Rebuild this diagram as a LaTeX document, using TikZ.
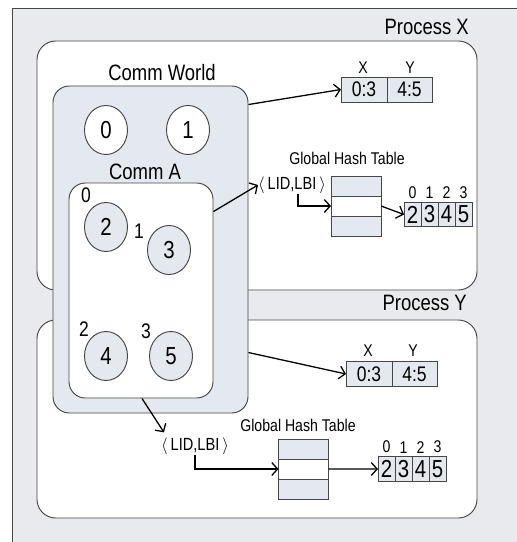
\documentclass[tikz,border=0pt]{standalone}
\usepackage{fontspec}
\setmainfont{Liberation Sans}[FakeStretch=0.83]
\usepackage{tikz}
\usetikzlibrary{arrows.meta, positioning, shapes.geometric, calc}
\usepackage{xcolor}
\definecolor{BG}{RGB}{233,234,237}
\definecolor{FL}{RGB}{228,233,239}
\definecolor{DG}{RGB}{70,70,70}

\begin{document}
\begin{tikzpicture}[x=0.03cm, y=-0.03cm,
  procbox/.style={draw=DG, line width=0.8pt, fill=white, rounded corners=16pt},
  commbox/.style={draw=DG, line width=0.8pt, rounded corners=14pt},
  biglabel/.style={inner sep=0pt, font=\fontsize{19}{20}\selectfont},
  rankcirc/.style={draw=DG, line width=0.8pt, ellipse, inner sep=0pt,
                   minimum width=1.29cm, minimum height=1.47cm,
                   font=\fontsize{21}{22}\selectfont},
  ranklabel/.style={inner sep=0pt, font=\fontsize{18}{19}\selectfont},
  cell/.style={draw=DG, line width=0.7pt, fill=FL, inner sep=0pt, outer sep=0pt,
               minimum height=0.75cm, font=\fontsize{18}{19}\selectfont},
  hcell/.style={draw=DG, line width=0.7pt, inner sep=0pt, outer sep=0pt,
                minimum width=1.5cm, minimum height=0.6cm},
  acell/.style={draw=DG, line width=0.7pt, fill=FL, inner sep=0pt, outer sep=0pt,
                minimum width=0.51cm, minimum height=0.73cm,
                font=\fontsize{21}{22}\selectfont},
  small/.style={inner sep=0pt, font=\fontsize{14.5}{15}\selectfont},
  lid/.style={inner sep=0pt, font=\fontsize{15}{16}\selectfont},
  link/.style={-{Straight Barb[length=5pt,width=11pt]}, line width=1.1pt}
]
\useasboundingbox (0,0) rectangle (517,542);
\clip (0,0) rectangle (517,542);
\draw[DG, fill=BG, line width=0.8pt] (12,8) rectangle (540,570);

% processes
\node[procbox, minimum width=13.2cm, minimum height=7.47cm] (px) at (257,165.5) {};
\node[procbox, minimum width=13.2cm, minimum height=5.94cm] (py) at (257,419) {};
\node[biglabel, anchor=east] (pxl) at (469,27) {Process X};
\node[biglabel, anchor=east] (pyl) at (467,303) {Process Y};

% communicators
\node[commbox, fill=FL, minimum width=5.85cm, minimum height=9.81cm] (cw) at (150.5,249.5) {};
\node[commbox, fill=white, minimum width=4.32cm, minimum height=6.45cm] (ca) at (141,290.5) {};
\node[biglabel] (cwl) at (162,73) {Comm World};
\node[biglabel] (cal) at (145,172) {Comm A};

\node[rankcirc, fill=white] (c0) at (106,130) {0};
\node[rankcirc, fill=white] (c1) at (188,130) {1};
\node[rankcirc, fill=FL]    (c2) at (106,227) {2};
\node[rankcirc, fill=FL]    (c3) at (169,250) {3};
\node[rankcirc, fill=FL]    (c4) at (106,356) {4};
\node[rankcirc, fill=FL]    (c5) at (171,356) {5};

\node[ranklabel] (r0) at (86,195) {0};
\node[ranklabel] (r1) at (139,231) {1};
\node[ranklabel] (r2) at (84,329) {2};
\node[ranklabel] (r3) at (146,331) {3};

% process X tables
\node[cell, minimum width=1.38cm] (tx1) at (364,89.5) {0:3};
\node[cell, minimum width=1.35cm, right=0pt of tx1] (tx2) {4:5};
\node[small] (txl1) at (363,68) {X};
\node[small] (txl2) at (410,68) {Y};

\node[small] (ghx) at (347,158) {Global Hash Table};
\node[hcell, fill=FL]    (hx1) at (356,186) {};
\node[hcell, fill=white, below=0pt of hx1] (hx2) {};
\node[hcell, fill=FL,    below=0pt of hx2] (hx3) {};

\node[acell] (ax0) at (412.5,214.5) {2};
\node[acell, right=0pt of ax0] (ax1) {3};
\node[acell, right=0pt of ax1] (ax2) {4};
\node[acell, right=0pt of ax2] (ax3) {5};
\node[small, above=3pt of ax0] {0};
\node[small, above=3pt of ax1] {1};
\node[small, above=3pt of ax2] {2};
\node[small, above=3pt of ax3] {3};

\node[lid] (lidx) at (292,185) {$\big\langle$\,LID,LBI\,$\big\rangle$};

% process Y tables
\node[cell, minimum width=1.38cm] (ty1) at (369,374) {0:3};
\node[cell, minimum width=1.35cm, right=0pt of ty1] (ty2) {4:5};
\node[small] (tyl1) at (368,351) {X};
\node[small] (tyl2) at (413,351) {Y};

\node[small] (ghy) at (298,425) {Global Hash Table};
\node[hcell, fill=FL]    (hy1) at (303.5,449) {};
\node[hcell, fill=white, below=0pt of hy1] (hy2) {};
\node[hcell, fill=FL,    below=0pt of hy2] (hy3) {};

\node[acell] (ay0) at (386.5,469) {2};
\node[acell, right=0pt of ay0] (ay1) {3};
\node[acell, right=0pt of ay1] (ay2) {4};
\node[acell, right=0pt of ay2] (ay3) {5};
\node[small, above=3pt of ay0] {0};
\node[small, above=3pt of ay1] {1};
\node[small, above=3pt of ay2] {2};
\node[small, above=3pt of ay3] {3};

\node[lid] (lidy) at (195,446) {$\big\langle$\,LID,LBI\,$\big\rangle$};

% links
\coordinate (cwx) at ($(cw.north east)+(0,19)$);
\coordinate (cax) at ($(ca.north east)+(0,29)$);
\coordinate (cwy) at ($(cw.north east)+(0,267)$);
\coordinate (cay) at ($(ca.south)+(1,0)$);
\draw[link] (cwx) -- (tx1.west);
\draw[link] (cax) -- (lidx.west);
\draw[link] ($(lidx.south)+(6,0)$) |- (hx2.west);
\draw[link] (hx2.east) -- (ax0.west);
\draw[link] (cwy) -- (ty1.west);
\draw[link] (cay) -- ($(lidy.north west)+(3,-5)$);
\draw[link] ($(lidy.south)+(0,0)$) |- (hy2.west);
\draw[link] (hy2.east) -- (ay0.west);
\end{tikzpicture}
\end{document}
